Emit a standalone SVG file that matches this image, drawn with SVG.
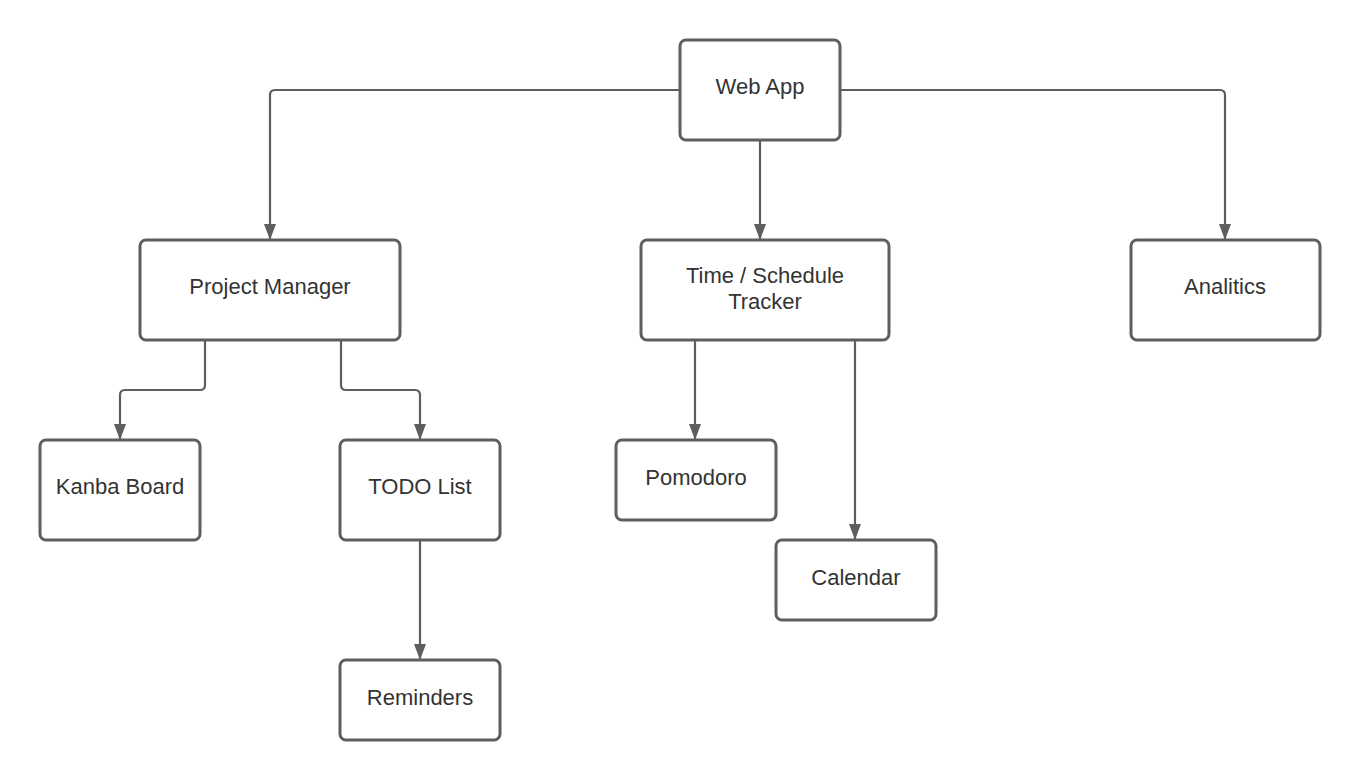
<svg xmlns="http://www.w3.org/2000/svg" width="1360" height="780" viewBox="0 0 1360 780">
<style>
.box{fill:#fff;stroke:#5e5e5e;stroke-width:3}
.lbl{font-family:"Liberation Sans",Arial,sans-serif;font-size:22px;fill:#333;text-anchor:middle;dominant-baseline:central}
.edge{fill:none;stroke:#5e5e5e;stroke-width:2.2;marker-end:url(#arr)}
</style>
<defs>
<marker id="arr" viewBox="0 0 16 12" refX="15" refY="6" markerWidth="16" markerHeight="12" markerUnits="userSpaceOnUse" orient="auto">
<path d="M0,0 L16,6 L0,12 Z" fill="#5e5e5e"/>
</marker>
</defs>
<rect width="1360" height="780" fill="#fff"/>
<g id="connectors">
<path class="edge" d="M680,90 H275 Q270,90 270,95 V239"/>
<path class="edge" d="M760,140 V239"/>
<path class="edge" d="M840,90 H1220 Q1225,90 1225,95 V239"/>
<path class="edge" d="M205,340 V385 Q205,390 200,390 H125 Q120,390 120,395 V439"/>
<path class="edge" d="M341,340 V385 Q341,390 346,390 H415 Q420,390 420,395 V439"/>
<path class="edge" d="M420,540 V659"/>
<path class="edge" d="M695,340 V439"/>
<path class="edge" d="M855,340 V539"/>
</g>
<g id="webapp"><rect class="box" x="680" y="40" width="160" height="100" rx="6"/><text class="lbl" x="760" y="86">Web App</text></g>
<g id="pm"><rect class="box" x="140" y="240" width="260" height="100" rx="6"/><text class="lbl" x="270" y="286">Project Manager</text></g>
<g id="time"><rect class="box" x="641" y="240" width="248" height="100" rx="6"/><text class="lbl" x="765" y="275">Time / Schedule</text><text class="lbl" x="765" y="301">Tracker</text></g>
<g id="analitics"><rect class="box" x="1131" y="240" width="189" height="100" rx="6"/><text class="lbl" x="1225" y="286">Analitics</text></g>
<g id="kanba"><rect class="box" x="40" y="440" width="160" height="100" rx="6"/><text class="lbl" x="120" y="486">Kanba Board</text></g>
<g id="todo"><rect class="box" x="340" y="440" width="160" height="100" rx="6"/><text class="lbl" x="420" y="486">TODO List</text></g>
<g id="reminders"><rect class="box" x="340" y="660" width="160" height="80" rx="6"/><text class="lbl" x="420" y="697">Reminders</text></g>
<g id="pomodoro"><rect class="box" x="616" y="440" width="160" height="80" rx="6"/><text class="lbl" x="696" y="477">Pomodoro</text></g>
<g id="calendar"><rect class="box" x="776" y="540" width="160" height="80" rx="6"/><text class="lbl" x="856" y="577">Calendar</text></g>
</svg>
